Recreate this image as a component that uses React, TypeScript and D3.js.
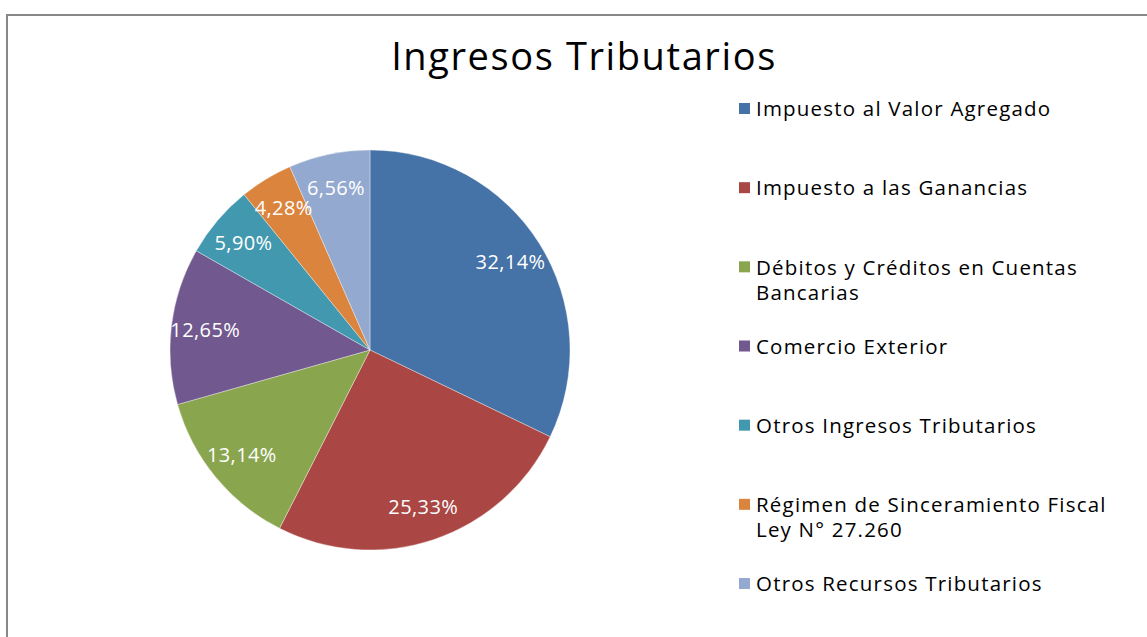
import React from 'react';
import * as d3 from 'd3';

const categories = [
  'Impuesto al Valor Agregado',
  'Impuesto a las Ganancias',
  'Débitos y Créditos en Cuentas Bancarias',
  'Comercio Exterior',
  'Otros Ingresos Tributarios',
  'Régimen de Sinceramiento Fiscal Ley N° 27.260',
  'Otros Recursos Tributarios',
];
const values = [32.14, 25.33, 13.14, 12.65, 5.9, 4.28, 6.56];
const labels = ['32,14%', '25,33%', '13,14%', '12,65%', '5,90%', '4,28%', '6,56%'];
// legend text split into lines as in the picture
const legendLines = [
  ['Impuesto al Valor Agregado'],
  ['Impuesto a las Ganancias'],
  ['Débitos y Créditos en Cuentas', 'Bancarias'],
  ['Comercio Exterior'],
  ['Otros Ingresos Tributarios'],
  ['Régimen de Sinceramiento Fiscal', 'Ley N° 27.260'],
  ['Otros Recursos Tributarios'],
];
const colors = ['#4572A7', '#AA4643', '#89A54E', '#71588F', '#4198AF', '#DB843D', '#93A9CF'];

const W = 1147;
const H = 637;
const FONT = "'Open Sans', 'DejaVu Sans', sans-serif";

export default function App() {
  const cx = 370;
  const cy = 350;
  const R = 200;

  const pie = d3.pie<number>().sort(null).value((d) => d);
  const arcs = pie(values);
  const arc = d3.arc<d3.PieArcDatum<number>>().innerRadius(0).outerRadius(R);
  const labelArc = d3.arc<d3.PieArcDatum<number>>().innerRadius(R * 0.83).outerRadius(R * 0.83);

  const legendY = d3.scalePoint<number>().domain(d3.range(categories.length)).range([109, 584]);

  return (
    <svg width={W} height={H} style={{ position: 'absolute', left: 0, top: 0, background: '#fff' }}>
      <rect x={7} y={15} width={W + 20} height={H + 20} fill="#fff" stroke="#888" strokeWidth={2} />
      <text x={584} y={70} textAnchor="middle" fontFamily={FONT} fontSize={38} letterSpacing={1.6} fill="#000">
        Ingresos Tributarios
      </text>
      <g transform={`translate(${cx},${cy})`}>
        {arcs.map((a, i) => (
          <path key={i} d={arc(a) || ''} fill={colors[i]} stroke="#fff" strokeOpacity={0.6} strokeWidth={0.6} />
        ))}
        {arcs.map((a, i) => {
          const [x, y] = labelArc.centroid(a);
          return (
            <text key={'l' + i} x={x} y={y} dy="0.35em" textAnchor="middle" fontFamily={FONT} fontSize={20} letterSpacing={0.4} fill="#fff">
              {labels[i]}
            </text>
          );
        })}
      </g>
      <g>
        {legendLines.map((lines, i) => {
          const y = legendY(i) as number;
          return (
            <g key={'lg' + i}>
              <rect x={739} y={y - 6} width={11} height={11} fill={colors[i]} />
              {lines.map((ln, j) => (
                <text key={j} x={756} y={y + j * 25} dy="0.35em" fontFamily={FONT} fontSize={20.5} letterSpacing={1.2} fill="#000">
                  {ln}
                </text>
              ))}
            </g>
          );
        })}
      </g>
    </svg>
  );
}
